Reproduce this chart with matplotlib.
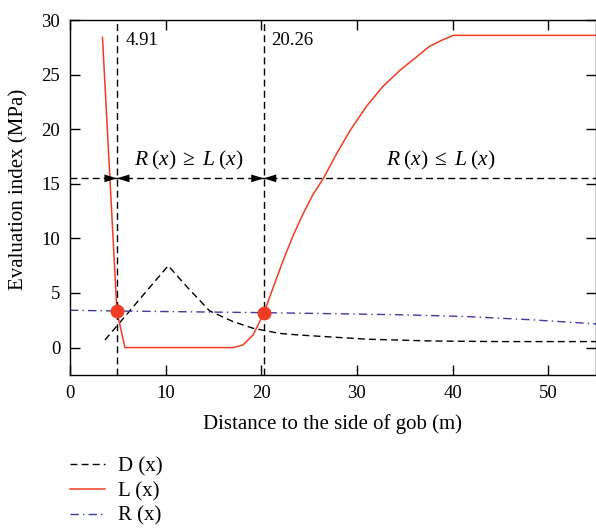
import numpy as np
import matplotlib.pyplot as plt

plt.rcParams['font.family'] = ['Liberation Serif', 'DejaVu Serif']
plt.rcParams['mathtext.fontset'] = 'custom'
plt.rcParams['mathtext.it'] = 'Liberation Serif:italic'
plt.rcParams['mathtext.rm'] = 'Liberation Serif'

# curves
D_x = [3.66, 10.27, 12.36, 14.6, 17.0, 19.15, 21.9, 24.0, 31.0, 38.0, 45.0, 55.0]
D_y = [0.7, 7.5, 5.44, 3.36, 2.4, 1.77, 1.3, 1.15, 0.77, 0.6, 0.55, 0.55]

L_x = [3.4, 4.91, 5.75, 17.1, 18.1, 19.15, 20.27, 20.9, 22.3, 23.3, 24.4, 25.4, 26.5,
       27.9, 29.3, 31.0, 32.7, 34.5, 36.2, 37.6, 39.0, 40.1, 55.0]
L_y = [28.4, 3.3, 0.0, 0.0, 0.25, 1.16, 3.15, 4.67, 8.0, 10.2, 12.3, 14.0, 15.5,
       17.8, 19.9, 22.1, 23.9, 25.4, 26.6, 27.6, 28.2, 28.6, 28.6]

R_x = [0.0, 4.91, 20.26, 24.0, 35.0, 41.5, 48.4, 55.0]
R_y = [3.42, 3.35, 3.2, 3.15, 3.0, 2.84, 2.54, 2.17]

cross_x = [4.91, 20.26]
cross_y = [3.35, 3.2]
level = 15.5

red = '#f03c23'
blue = '#3c3c9c'
fs = 13.5
lfs = 15

fig = plt.figure(figsize=(5.96, 5.28), dpi=100)
ax = fig.add_axes([0.1174, 0.29, 0.8826, 0.672])

ax.plot(D_x, D_y, '--', color='black', lw=1.0, dashes=(5, 3), label='D (x)')
ax.plot(L_x, L_y, '-', color=red, lw=1.1, label='L (x)')
ax.plot(R_x, R_y, '-.', color=blue, lw=1.0, dashes=(6, 3, 1, 3), label='R (x)')

for xv in cross_x:
    ax.axvline(xv, color='black', ls='--', lw=1.0, dashes=(5, 3))
ax.axhline(level, color='black', ls='--', lw=1.0, dashes=(5, 3))

ax.plot(cross_x, cross_y, 'o', color=red, ms=9, zorder=5)

# arrow heads on the level line
hp = dict(arrowstyle='-|>,head_length=0.9,head_width=0.28', color='black', lw=0, shrinkA=0, shrinkB=0)
for xv in cross_x:
    ax.annotate('', xy=(xv, level), xytext=(-14, 0), textcoords='offset points', arrowprops=hp)
    ax.annotate('', xy=(xv, level), xytext=(14, 0), textcoords='offset points', arrowprops=hp)

ax.text(cross_x[0] + 0.95, 28.1, '4.91', fontsize=fs, va='center')
ax.text(cross_x[1] + 0.75, 28.1, '20.26', fontsize=fs, va='center')
ax.text(12.4, 17.1, r'$R\;(x)\;\geq\;L\;(x)$', fontsize=15.5, ha='center', va='center')
ax.text(38.8, 17.1, r'$R\;(x)\;\leq\;L\;(x)$', fontsize=15.5, ha='center', va='center')

ax.set_xlim(0, 55)
ax.set_ylim(-2.5, 30)
ax.set_xticks([0, 10, 20, 30, 40, 50])
ax.set_yticks([0, 5, 10, 15, 20, 25, 30])
ax.tick_params(direction='in', top=True, right=True, length=7, width=1, labelsize=fs, pad=7)
ax.set_xlabel('Distance to the side of gob (m)', fontsize=lfs)
ax.set_ylabel('Evaluation index (MPa)', fontsize=lfs)
ax.xaxis.set_label_coords(0.5, -0.11)
ax.yaxis.set_label_coords(-0.078, 0.524)
for s in ax.spines.values():
    s.set_linewidth(1)

ax.legend(loc='upper left', bbox_to_anchor=(0.0, -0.232), frameon=False, fontsize=lfs,
          handlelength=1.7, handletextpad=0.6, labelspacing=0.24, borderaxespad=0, borderpad=0)

fig.savefig('out.png', dpi=100)
